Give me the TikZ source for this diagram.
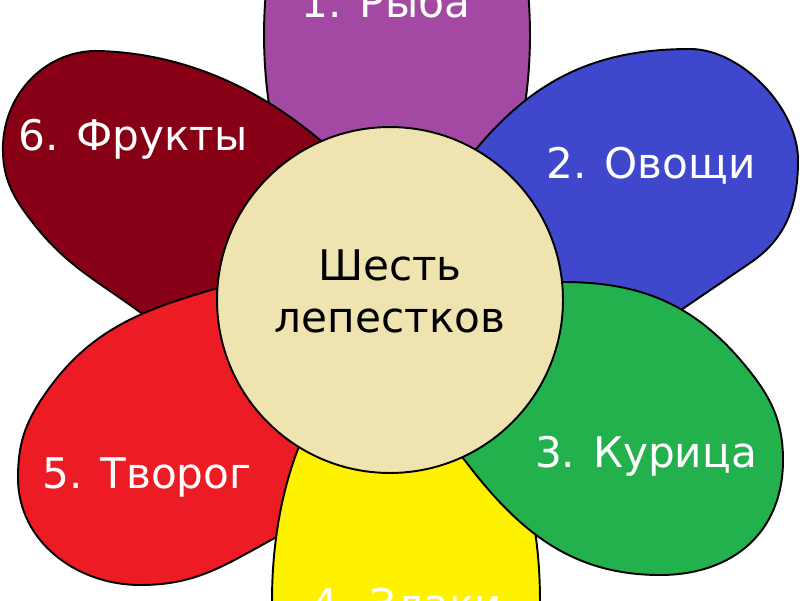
\documentclass[tikz,border=0pt]{standalone}
\usepackage{fontspec}
\setmainfont{DejaVu Sans}
\definecolor{pPurple}{HTML}{A349A4}
\definecolor{pBlue}{HTML}{3F48CC}
\definecolor{pDark}{HTML}{880015}
\definecolor{pRed}{HTML}{ED1C24}
\definecolor{pYellow}{HTML}{FFF200}
\definecolor{pGreen}{HTML}{22B14C}
\definecolor{pTan}{HTML}{EFE4B0}
\tikzset{
  petal/.style={draw=black, line width=1.1pt},
  lbl/.style={text=white, font=\fontsize{24}{29}\selectfont, anchor=base, inner sep=0pt},
  ctr/.style={text=black, font=\fontsize{24}{29}\selectfont, anchor=base, inner sep=0pt}
}
\begin{document}
\begin{tikzpicture}[x=0.02cm, y=0.02cm]
\useasboundingbox (0,0) rectangle (800,600);
\clip (0,0) rectangle (800,600);
\fill[white] (0,0) rectangle (800,600);
% 1 purple
\filldraw[petal, fill=pPurple] (397,565) ellipse [x radius=2.66cm, y radius=5.1cm];
% 2 blue
\filldraw[petal, fill=pBlue] (451,421) -- (477,452)
  to[out=50,in=180] (690,551)
  to[out=0,in=90,looseness=0.85] (798,440)
  to[out=-90,in=34] (750,337) -- (678,288) -- (620,249) -- (520,310) -- cycle;
% 6 dark red
\filldraw[petal, fill=pDark] (343,441) -- (320,460)
  to[out=140,in=-2,looseness=0.9] (100,549)
  to[out=178,in=88] (3,455)
  to[out=268,in=128] (33,377)
  to[out=308,in=144] (137,290) -- (190,252) -- (300,350) -- cycle;
% 5 red
\filldraw[petal, fill=pRed] (242,319) -- (218,312)
  to[out=196,in=56] (43,203)
  to[out=236,in=90] (18,122)
  to[out=270,in=180] (140,15)
  to[out=0,in=209] (253,50) -- (300,76) -- (330,160) -- (260,300) -- cycle;
% 4 yellow
\filldraw[petal, fill=pYellow] (406,0) ellipse [x radius=2.68cm, y radius=5.1cm];
% 3 green
\filldraw[petal, fill=pGreen] (535,318) -- (563,318)
  to[out=0,in=130] (743,237)
  to[out=-50,in=90] (783,140)
  to[out=-90,in=0,looseness=1.1] (660,25)
  to[out=180,in=-53] (463,142) -- (440,175) -- (530,300) -- cycle;
% centre
\filldraw[petal, fill=pTan] (390,300) circle [radius=3.46cm];
% labels
\node[lbl] (n1) at (386,583) {1. Рыба};
\node[lbl] (n2) at (651,422) {2. Овощи};
\node[lbl] (n3) at (646,133) {3. Курица};
\node[lbl] (n4) at (407,-19) {4. Злаки};
\node[lbl] (n5) at (147,112) {5. Творог};
\node[lbl] (n6) at (133,450) {6. Фрукты};
\node[ctr] (c1) at (390,320) {Шесть};
\node[ctr] (c2) at (390,268) {лепестков};
\end{tikzpicture}
\end{document}
